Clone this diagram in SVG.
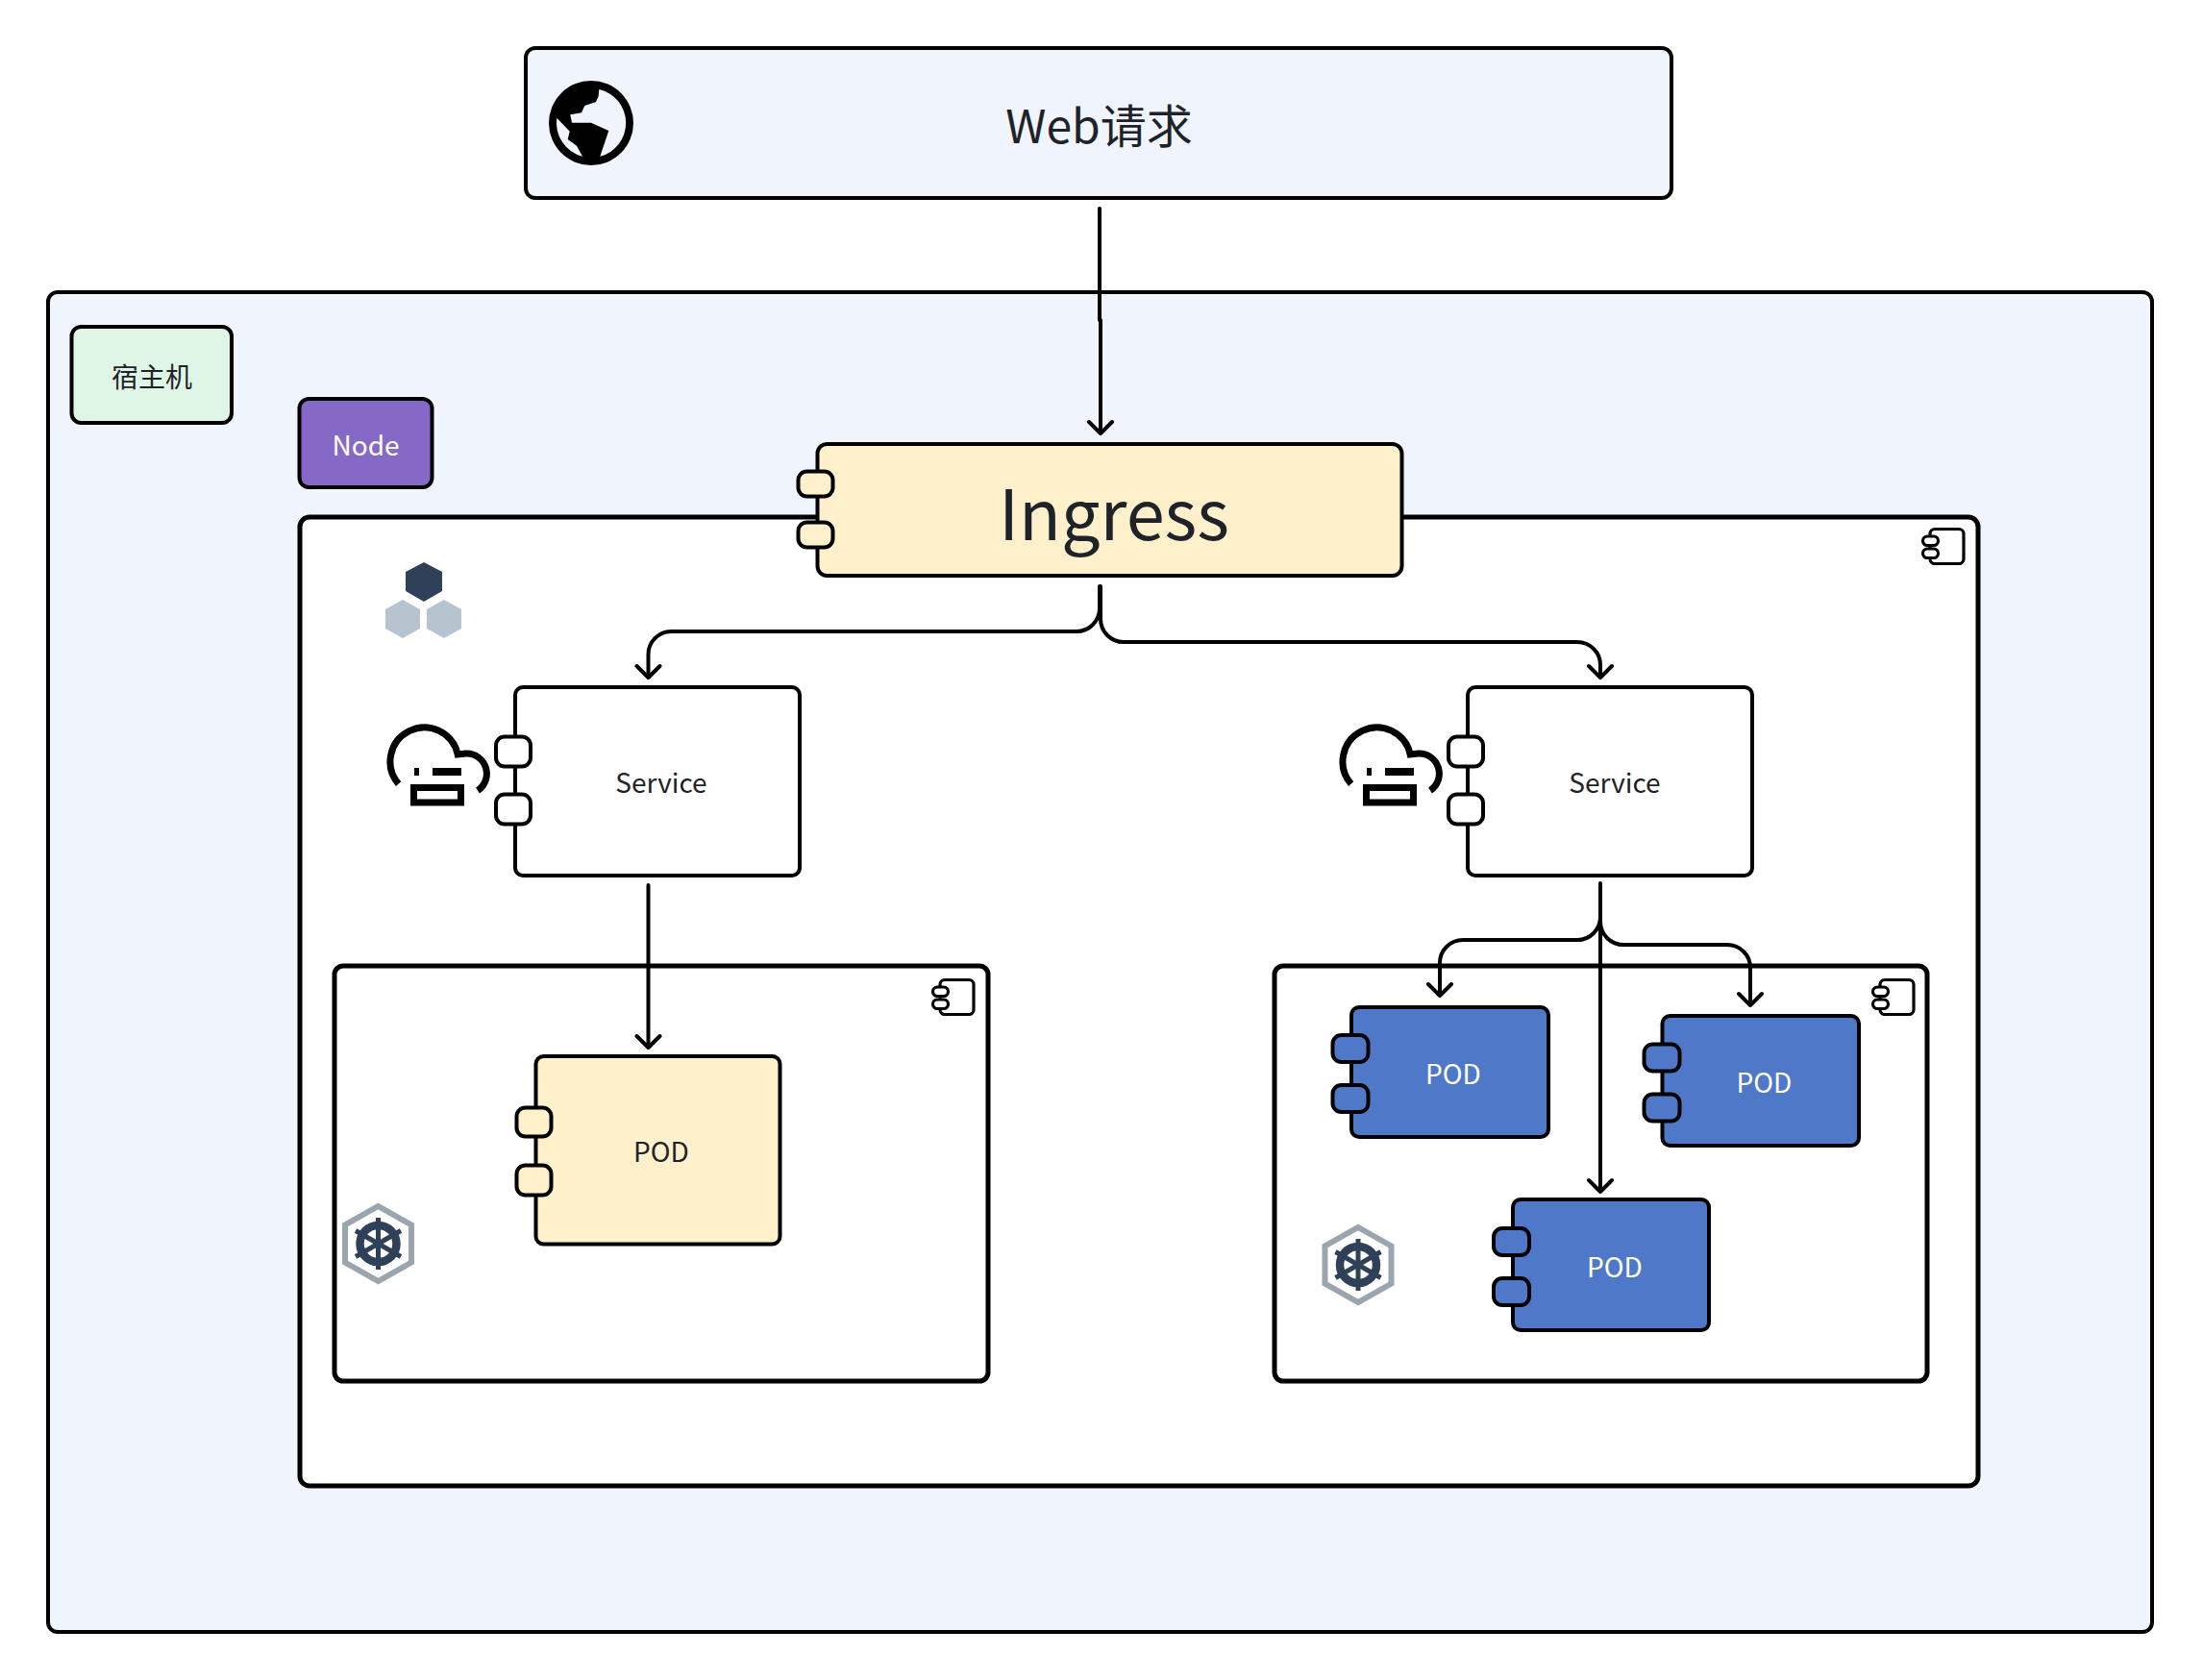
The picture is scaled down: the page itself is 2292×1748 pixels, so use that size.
<svg xmlns="http://www.w3.org/2000/svg" xmlns:xlink="http://www.w3.org/1999/xlink" width="2292" height="1748" viewBox="0 0 2292 1748">
<style>
text{font-family:"Noto Sans CJK SC","Noto Sans",sans-serif;text-anchor:middle;dominant-baseline:central;fill:#1f2329;font-size:28px}
.w{fill:#fff}
.b{stroke:#000;stroke-width:4}
.c{stroke:#000;stroke-width:5;fill:#fff}
.cy{fill:#fff0cc}.cw{fill:#fff}.cb{fill:#5078c8}
.con{fill:none;stroke:#000;stroke-width:4;stroke-linecap:round;stroke-linejoin:round}
.ic{fill:none;stroke:#000;stroke-width:3.200}
.sk{fill:none;stroke:#000;stroke-width:7}
.k{fill:#000}
</style>
<defs>
<g id="comp"><rect x="9" y="1.500" width="35" height="36" rx="5" class="ic"/><rect x="1.500" y="9" width="16" height="9.500" rx="4.700" class="ic" style="fill:#fff"/><rect x="1.500" y="22" width="16" height="9.500" rx="4.700" class="ic" style="fill:#fff"/></g>
<g id="cloud"><path class="sk" d="M414.600 815.600A35.500 35.500 0 1 1 476.200 785L485 784A21 21 0 0 1 497 822.500"/><rect x="431" y="799" width="5" height="8" class="k"/><rect x="450" y="799" width="30" height="8" class="k"/><rect x="430.500" y="819.500" width="49" height="15.500" class="sk"/></g>
<g id="wheel"><polygon points="0,-39 34.500,-19.500 34.500,19.500 0,39 -34.500,19.500 -34.500,-19.500" fill="none" stroke="#9ba5ae" stroke-width="6"/><circle r="19" fill="none" stroke="#2e4159" stroke-width="8.500"/><g stroke="#2e4159" stroke-width="5"><path d="M0-27V27"/><path d="M-23.500-13.500L23.500 13.500"/><path d="M-23.500 13.500L23.500-13.500"/></g></g>
</defs>
<rect width="2292" height="1748" fill="#fff"/>
<g id="host"><rect x="50" y="304" width="2189" height="1394" rx="10" fill="#eff4fd" class="b"/></g>
<g id="web"><rect x="547" y="50" width="1192" height="156" rx="10" fill="#eff4fd" class="b"/>
<circle cx="615" cy="128" r="44" class="k"/>
<path fill="#eff4fd" d="M623.300 92.900A36 36 0 0 1 624.300 162.800L633.300 136L615 127.700L595 127.700L593.300 119.300L605 117.300L608.300 110L620 106L622.700 100Z"/>
<path fill="#eff4fd" d="M579.300 122.700L592.700 136.700L590.700 145L600 151.700L606 162.800A36 36 0 0 1 579.300 122.700Z"/>
<text x="1143.500" y="128" style="font-size:48px">Web请求</text></g>
<g id="legend-host"><rect x="74.500" y="340" width="166.500" height="100" rx="10" fill="#dff5e5" stroke="#000" stroke-width="4"/><text x="158" y="390.500">宿主机</text></g>
<g id="legend-node"><rect x="311.500" y="415" width="138" height="92" rx="10" fill="#8669c7" stroke="#000" stroke-width="4"/><text x="380.500" y="461.500" class="w">Node</text></g>
<g id="node"><rect x="312" y="538" width="1746" height="1008" rx="10" class="c"/><use xlink:href="#comp" href="#comp" x="1999" y="549"/>
<polygon points="441,585 460,595 460,615 441,626 422,615 422,595" fill="#2e4159"/>
<polygon points="419,624 437,634 437,654 419,664 401,654 401,634" fill="#b7c3cf"/>
<polygon points="462,624 480,634 480,654 462,664 444,654 444,634" fill="#b7c3cf"/></g>
<g id="ingress"><rect x="850.500" y="462" width="608" height="137" rx="10" class="b cy"/><rect x="830.500" y="490.500" width="36" height="26" rx="9" class="b cy"/><rect x="830.500" y="543.500" width="36" height="26" rx="9" class="b cy"/><text x="1159" y="530.500" style="font-size:72px">Ingress</text></g>
<g id="service1"><rect x="536" y="715" width="296" height="196" rx="8" class="b cw"/><rect x="516" y="766.500" width="36" height="31" rx="9" class="b cw"/><rect x="516" y="826.500" width="36" height="31" rx="9" class="b cw"/><text x="688" y="812.500">Service</text><use xlink:href="#cloud" href="#cloud"/></g>
<g id="service2"><rect x="1527" y="715" width="296" height="196" rx="8" class="b cw"/><rect x="1507" y="766.500" width="36" height="31" rx="9" class="b cw"/><rect x="1507" y="826.500" width="36" height="31" rx="9" class="b cw"/><text x="1680" y="812.500">Service</text><use xlink:href="#cloud" href="#cloud" x="991"/></g>
<g id="ns1"><rect x="348" y="1005" width="680" height="432" rx="9" class="c"/><use xlink:href="#comp" href="#comp" x="969" y="1018"/><use xlink:href="#wheel" href="#wheel" x="393.500" y="1294"/></g>
<g id="ns2"><rect x="1326" y="1005" width="679" height="432" rx="9" class="c"/><use xlink:href="#comp" href="#comp" x="1947" y="1018"/><use xlink:href="#wheel" href="#wheel" x="1413" y="1316"/></g>
<g id="pod1"><rect x="557.500" y="1099" width="254" height="195.500" rx="8" class="b cy"/><rect x="537.500" y="1152.500" width="36" height="30" rx="9" class="b cy"/><rect x="537.500" y="1212.500" width="36" height="31" rx="9" class="b cy"/><text x="688" y="1197">POD</text></g>
<g id="pod2"><rect x="1406" y="1048" width="205" height="135" rx="8" class="b cb"/><rect x="1386.500" y="1077" width="37" height="28" rx="9" class="b cb"/><rect x="1386.500" y="1129" width="37" height="28" rx="9" class="b cb"/><text x="1512" y="1116" class="w">POD</text></g>
<g id="pod3"><rect x="1729.500" y="1057" width="204.500" height="135" rx="8" class="b cb"/><rect x="1710.500" y="1086.500" width="37" height="28" rx="9" class="b cb"/><rect x="1710.500" y="1138.500" width="37" height="28" rx="9" class="b cb"/><text x="1835.500" y="1125" class="w">POD</text></g>
<g id="pod4"><rect x="1574" y="1248" width="204" height="136" rx="8" class="b cb"/><rect x="1554" y="1278" width="37" height="28" rx="9" class="b cb"/><rect x="1554" y="1330" width="37" height="28" rx="9" class="b cb"/><text x="1680" y="1317" class="w">POD</text></g>
<g id="connectors" class="con">
<path d="M1144 217V333H1145V451M1133 439L1145 451L1157 439"/>
<path d="M1144 610V633A24 24 0 0 1 1120 657H698A24 24 0 0 0 674.500 681V705M662.500 693L674.500 705L686.500 693"/>
<path d="M1145 610V644A24 24 0 0 0 1169 668H1641A24 24 0 0 1 1665 692V705M1653 693L1665 705L1677 693"/>
<path d="M674.500 921V1090M662.500 1078L674.500 1090L686.500 1078"/>
<path d="M1665 919V1240M1653 1228L1665 1240L1677 1228"/>
<path d="M1665 954A24 24 0 0 1 1641 978H1522A24 24 0 0 0 1498 1002V1036M1486 1024L1498 1036L1510 1024"/>
<path d="M1665 959A24 24 0 0 0 1689 983H1797A24 24 0 0 1 1821 1007V1046M1809 1034L1821 1046L1833 1034"/>
</g>
</svg>
